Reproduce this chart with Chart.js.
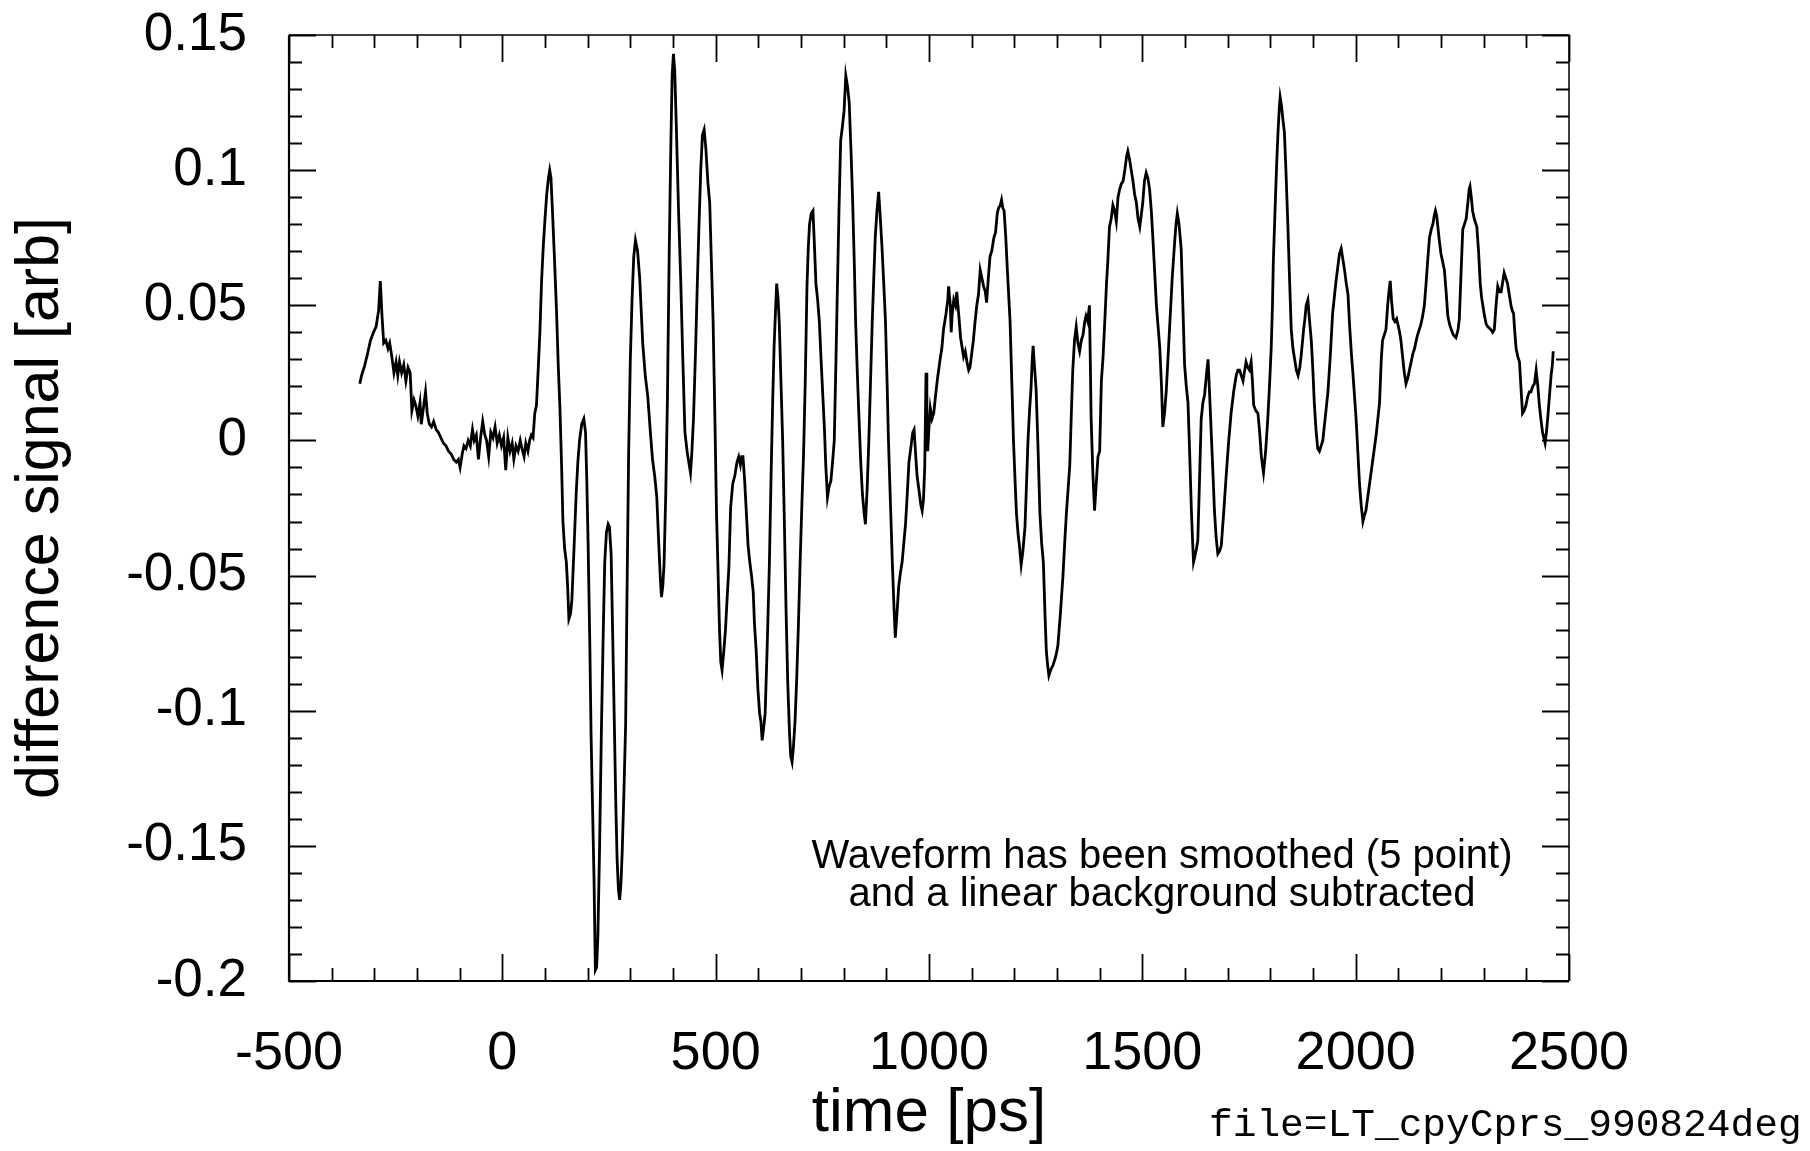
<!DOCTYPE html>
<html>
<head>
<meta charset="utf-8">
<script src="https://cdn.jsdelivr.net/npm/chart.js@4.4.1/dist/chart.umd.min.js"></script>
<style>
  html, body { margin: 0; padding: 0; background: #fff; }
  #wrap { position: relative; width: 1810px; height: 1151px; overflow: hidden; }
  #chart { position: absolute; left: 0; top: 0; }
  .note { position: absolute; font-family: 'Liberation Sans', Arial, sans-serif; color: #000; white-space: nowrap; }
  #smooth { left: 762px; top: 835px; width: 800px; text-align: center; font-size: 40px; line-height: 38px; }
  #file { left: 1209px; top: 1106px; font-family: 'Liberation Mono', 'Courier New', monospace; font-size: 39.5px; line-height: 40px; }
</style>
</head>
<body>
<div id="wrap">
  <canvas id="chart" width="1810" height="1151"></canvas>
  <div id="smooth" class="note">Waveform has been smoothed (5 point)<br>and a linear background subtracted</div>
  <div id="file" class="note">file=LT_cpyCprs_990824deg</div>
</div>
<script>
// time axis [ps]
const timePs = [
  -334, -330, -323, -316, -309, -302, -296, -290, -286, -282, -278, -273, -268, -264, -259, -254, -249, -245, -241, -236,
  -231, -226, -221, -216, -212, -207, -203, -198, -193, -190, -185, -180, -176, -171, -166, -161, -155, -150, -144, -138,
  -132, -126, -120, -114, -108, -103, -99, -94, -90, -85, -80, -75, -70, -66, -61, -56, -51, -46, -41, -37,
  -32, -27, -22, -17, -12, -7, -2, 3, 8, 13, 18, 23, 27, 32, 37, 42, 46, 51, 55, 60,
  64, 68, 72, 76, 80, 84, 88, 92, 96, 100, 104, 108, 111, 114, 118, 122, 127, 131, 135, 139,
  142, 146, 150, 153, 156, 160, 163, 168, 173, 177, 181, 186, 191, 195, 198, 201, 205, 208, 212, 215,
  218, 221, 224, 228, 232, 236, 240, 244, 248, 251, 255, 259, 263, 266, 269, 272, 275, 278, 281, 285,
  289, 292, 296, 300, 304, 308, 312, 317, 322, 329, 335, 341, 347, 352, 357, 362, 366, 370, 373, 376,
  379, 383, 387, 391, 395, 398, 401, 404, 408, 413, 418, 423, 428, 433, 438, 441, 444, 448, 453, 457,
  461, 465, 469, 473, 477, 482, 486, 490, 494, 498, 502, 505, 509, 512, 515, 519, 523, 527, 531, 535,
  540, 545, 550, 554, 558, 561, 564, 568, 572, 576, 580, 584, 588, 591, 595, 599, 603, 606, 609, 612,
  616, 621, 626, 630, 634, 637, 640, 643, 646, 649, 653, 657, 661, 665, 669, 673, 676, 679, 682, 686,
  690, 694, 698, 702, 706, 710, 714, 717, 720, 724, 728, 731, 735, 739, 743, 747, 751, 755, 758, 762,
  766, 770, 774, 778, 782, 785, 789, 793, 797, 801, 805, 809, 813, 817, 821, 825, 828, 832, 836, 840,
  844, 848, 851, 855, 859, 863, 867, 871, 874, 878, 882, 886, 890, 894, 898, 902, 905, 910, 914, 918,
  921, 925, 929, 933, 937, 941, 945, 949, 953, 958, 962, 965, 969, 972, 977, 981, 984, 987, 990, 993,
  995, 997, 1000, 1003, 1007, 1011, 1015, 1020, 1026, 1030, 1034, 1040, 1044, 1046, 1050, 1052, 1054, 1058, 1062, 1065,
  1070, 1074, 1077, 1081, 1085, 1089, 1093, 1096, 1100, 1104, 1108, 1112, 1116, 1120, 1124, 1128, 1132, 1135, 1139, 1143,
  1147, 1152, 1156, 1160, 1163, 1167, 1170, 1173, 1176, 1180, 1184, 1187, 1190, 1194, 1198, 1202, 1205, 1209, 1212, 1216,
  1220, 1225, 1229, 1232, 1236, 1239, 1242, 1244, 1247, 1251, 1255, 1260, 1264, 1268, 1272, 1275, 1278, 1281, 1285, 1291,
  1297, 1302, 1308, 1314, 1318, 1322, 1326, 1330, 1334, 1337, 1341, 1345, 1349, 1353, 1357, 1361, 1365, 1368, 1372, 1376,
  1378, 1380, 1384, 1388, 1392, 1396, 1400, 1404, 1408, 1412, 1416, 1419, 1423, 1427, 1431, 1435, 1439, 1443, 1447, 1451,
  1455, 1459, 1463, 1466, 1470, 1474, 1478, 1482, 1486, 1490, 1494, 1498, 1501, 1505, 1509, 1513, 1517, 1521, 1525, 1529,
  1533, 1537, 1541, 1545, 1548, 1552, 1556, 1560, 1564, 1570, 1576, 1579, 1582, 1586, 1591, 1595, 1599, 1603, 1607, 1611,
  1615, 1618, 1620, 1623, 1627, 1630, 1634, 1638, 1642, 1646, 1650, 1654, 1658, 1662, 1666, 1669, 1673, 1677, 1681, 1685,
  1691, 1697, 1702, 1708, 1714, 1720, 1724, 1728, 1732, 1736, 1740, 1743, 1747, 1751, 1755, 1758, 1761, 1766, 1771, 1775,
  1779, 1784, 1789, 1794, 1798, 1802, 1805, 1807, 1811, 1815, 1818, 1821, 1823, 1826, 1830, 1833, 1837, 1841, 1845, 1849,
  1853, 1857, 1861, 1865, 1869, 1872, 1875, 1878, 1881, 1884, 1888, 1892, 1896, 1900, 1903, 1907, 1911, 1915, 1919, 1923,
  1929, 1935, 1940, 1946, 1950, 1954, 1958, 1962, 1966, 1970, 1974, 1978, 1982, 1986, 1990, 1993, 1997, 2001, 2005, 2009,
  2013, 2017, 2020, 2024, 2030, 2036, 2042, 2048, 2052, 2056, 2060, 2063, 2067, 2071, 2075, 2078, 2081, 2084, 2088, 2092,
  2096, 2099, 2103, 2106, 2110, 2114, 2118, 2122, 2126, 2130, 2134, 2138, 2142, 2145, 2149, 2153, 2157, 2161, 2165, 2169,
  2173, 2177, 2181, 2184, 2187, 2190, 2192, 2196, 2200, 2204, 2208, 2212, 2216, 2220, 2224, 2229, 2235, 2240, 2243, 2247,
  2251, 2255, 2259, 2263, 2266, 2268, 2271, 2274, 2278, 2284, 2288, 2292, 2295, 2298, 2302, 2306, 2310, 2317, 2321, 2325,
  2329, 2333, 2337, 2341, 2345, 2348, 2352, 2356, 2360, 2364, 2367, 2370, 2373, 2376, 2380, 2384, 2388, 2391, 2395, 2399,
  2403, 2407, 2411, 2415, 2419, 2423, 2427, 2430, 2434, 2438, 2441, 2444, 2447, 2450, 2454, 2458, 2461, 2463
];

// difference signal [arb], same order as timePs
const signal = [
  0.021, 0.024, 0.0275, 0.032, 0.037, 0.040, 0.042, 0.048, 0.059, 0.046, 0.036, 0.037, 0.034, 0.036, 0.031, 0.025, 0.029, 0.024, 0.029, 0.025,
  0.028, 0.022, 0.027, 0.025, 0.011, 0.015, 0.013, 0.009, 0.014, 0.006, 0.012, 0.018, 0.010, 0.006, 0.005, 0.007, 0.004, 0.003, 0.001, -0.001,
  -0.002, -0.004, -0.005, -0.007, -0.008, -0.007, -0.010, -0.005, -0.002, -0.003, 0.000, -0.002, 0.004, 0.000, 0.002, -0.007, 0.001, 0.007, 0.002, 0.000,
  -0.006, 0.003, 0.001, 0.005, -0.001, 0.002, -0.002, 0.001, -0.011, 0.001, -0.004, -0.001, -0.007, -0.002, -0.004, 0.000, -0.003, -0.006, -0.001, -0.004,
  0.000, 0.002, 0.001, 0.010, 0.013, 0.026, 0.040, 0.059, 0.072, 0.082, 0.091, 0.097, 0.100, 0.097, 0.083, 0.068, 0.048, 0.028, 0.012, -0.010,
  -0.030, -0.040, -0.045, -0.054, -0.066, -0.064, -0.059, -0.040, -0.020, -0.008, 0.000, 0.006, 0.008, 0.003, -0.015, -0.038, -0.075, -0.109, -0.140, -0.163,
  -0.196, -0.195, -0.183, -0.150, -0.109, -0.075, -0.045, -0.034, -0.031, -0.032, -0.042, -0.075, -0.109, -0.135, -0.155, -0.166, -0.170, -0.164, -0.152, -0.130,
  -0.105, -0.060, -0.005, 0.030, 0.052, 0.068, 0.074, 0.070, 0.060, 0.036, 0.024, 0.016, 0.003, -0.007, -0.013, -0.021, -0.036, -0.050, -0.058, -0.054,
  -0.046, -0.020, 0.016, 0.068, 0.110, 0.135, 0.143, 0.137, 0.115, 0.085, 0.060, 0.030, 0.003, -0.004, -0.009, -0.012, -0.005, 0.008, 0.034, 0.058,
  0.080, 0.100, 0.113, 0.115, 0.108, 0.095, 0.088, 0.066, 0.044, 0.010, -0.027, -0.045, -0.070, -0.082, -0.085, -0.078, -0.070, -0.058, -0.047, -0.025,
  -0.016, -0.013, -0.008, -0.006, -0.009, -0.006, -0.006, -0.015, -0.027, -0.039, -0.045, -0.050, -0.056, -0.068, -0.078, -0.092, -0.101, -0.104, -0.111, -0.107,
  -0.101, -0.075, -0.045, -0.012, 0.017, 0.035, 0.047, 0.058, 0.053, 0.044, 0.022, 0.000, -0.030, -0.063, -0.090, -0.108, -0.117, -0.119, -0.114, -0.104,
  -0.088, -0.068, -0.045, -0.024, -0.005, 0.022, 0.057, 0.071, 0.080, 0.084, 0.085, 0.074, 0.058, 0.052, 0.044, 0.030, 0.017, 0.004, -0.009, -0.021,
  -0.017, -0.015, -0.008, 0.000, 0.030, 0.054, 0.085, 0.111, 0.116, 0.122, 0.135, 0.131, 0.125, 0.108, 0.089, 0.065, 0.044, 0.025, 0.008, -0.008,
  -0.020, -0.027, -0.031, -0.018, 0.000, 0.022, 0.044, 0.062, 0.075, 0.085, 0.092, 0.082, 0.071, 0.058, 0.044, 0.020, 0.000, -0.025, -0.045, -0.062,
  -0.073, -0.064, -0.054, -0.049, -0.045, -0.038, -0.031, -0.020, -0.008, -0.002, 0.003, 0.004, -0.006, -0.013, -0.019, -0.024, -0.026, -0.022, -0.010, 0.025,
  0.010, -0.004, 0.005, 0.012, 0.008, 0.010, 0.016, 0.023, 0.030, 0.034, 0.041, 0.047, 0.052, 0.057, 0.050, 0.040, 0.046, 0.052, 0.050, 0.055,
  0.046, 0.038, 0.035, 0.031, 0.033, 0.029, 0.026, 0.027, 0.032, 0.037, 0.044, 0.050, 0.054, 0.063, 0.060, 0.057, 0.055, 0.051, 0.060, 0.068,
  0.070, 0.075, 0.077, 0.084, 0.086, 0.087, 0.089, 0.086, 0.085, 0.075, 0.062, 0.053, 0.044, 0.022, 0.000, -0.016, -0.027, -0.035, -0.039, -0.046,
  -0.041, -0.032, -0.014, 0.000, 0.012, 0.019, 0.030, 0.035, 0.028, 0.019, 0.000, -0.027, -0.038, -0.045, -0.065, -0.078, -0.083, -0.087, -0.085, -0.083,
  -0.080, -0.076, -0.064, -0.050, -0.038, -0.027, -0.018, -0.009, 0.012, 0.026, 0.037, 0.042, 0.036, 0.033, 0.037, 0.039, 0.044, 0.046, 0.044, 0.050,
  0.030, 0.008, -0.012, -0.026, -0.016, -0.006, -0.004, 0.022, 0.031, 0.044, 0.058, 0.066, 0.079, 0.082, 0.087, 0.085, 0.081, 0.090, 0.093, 0.095,
  0.096, 0.100, 0.105, 0.107, 0.104, 0.100, 0.096, 0.091, 0.088, 0.082, 0.079, 0.084, 0.088, 0.096, 0.099, 0.097, 0.093, 0.085, 0.074, 0.062,
  0.050, 0.042, 0.034, 0.020, 0.005, 0.010, 0.018, 0.030, 0.042, 0.060, 0.074, 0.080, 0.084, 0.080, 0.071, 0.050, 0.028, 0.020, 0.014, -0.005,
  -0.026, -0.038, -0.045, -0.043, -0.040, -0.037, -0.015, 0.008, 0.014, 0.017, 0.024, 0.030, 0.016, 0.001, -0.014, -0.026, -0.036, -0.042, -0.041, -0.039,
  -0.026, -0.012, -0.001, 0.010, 0.018, 0.024, 0.026, 0.026, 0.024, 0.022, 0.026, 0.029, 0.027, 0.026, 0.029, 0.022, 0.013, 0.011, 0.010, 0.003,
  -0.006, -0.012, -0.004, 0.008, 0.020, 0.034, 0.050, 0.066, 0.085, 0.103, 0.114, 0.123, 0.127, 0.124, 0.118, 0.114, 0.098, 0.080, 0.060, 0.041,
  0.034, 0.030, 0.026, 0.024, 0.027, 0.031, 0.036, 0.041, 0.045, 0.050, 0.052, 0.044, 0.037, 0.025, 0.014, 0.004, -0.003, -0.004, -0.002, 0.000,
  0.009, 0.018, 0.030, 0.047, 0.053, 0.059, 0.064, 0.069, 0.071, 0.067, 0.063, 0.058, 0.054, 0.042, 0.032, 0.026, 0.017, 0.008, -0.004, -0.016,
  -0.024, -0.030, -0.028, -0.026, -0.019, -0.012, -0.005, 0.002, 0.008, 0.014, 0.030, 0.037, 0.039, 0.041, 0.050, 0.055, 0.059, 0.052, 0.045, 0.044,
  0.045, 0.043, 0.040, 0.037, 0.031, 0.025, 0.021, 0.023, 0.026, 0.029, 0.032, 0.034, 0.037, 0.039, 0.041, 0.043, 0.046, 0.050, 0.058, 0.067,
  0.075, 0.078, 0.080, 0.083, 0.085, 0.083, 0.080, 0.074, 0.069, 0.066, 0.063, 0.055, 0.046, 0.043, 0.041, 0.039, 0.038, 0.041, 0.045, 0.062,
  0.078, 0.080, 0.082, 0.088, 0.093, 0.094, 0.090, 0.085, 0.082, 0.079, 0.070, 0.058, 0.053, 0.050, 0.046, 0.043, 0.042, 0.041, 0.040, 0.041,
  0.050, 0.057, 0.055, 0.055, 0.059, 0.062, 0.060, 0.058, 0.054, 0.050, 0.048, 0.047, 0.040, 0.034, 0.031, 0.029, 0.018, 0.010, 0.011, 0.013,
  0.016, 0.018, 0.018, 0.020, 0.021, 0.026, 0.020, 0.014, 0.008, 0.003, 0.001, -0.001, 0.003, 0.008, 0.016, 0.024, 0.028, 0.033
];

// axis limits and labelled tick values
const xRange = [-500, 2500];
const yRange = [-0.2, 0.15];
const xMajorTicks = [-500, 0, 500, 1000, 1500, 2000, 2500];
const yMajorTicks = [-0.2, -0.15, -0.1, -0.05, 0, 0.05, 0.1, 0.15];

const isMajorX = v => xMajorTicks.some(m => Math.abs(m - v) < 1e-6);
const isMajorY = v => yMajorTicks.some(m => Math.abs(m - v) < 1e-6);
const fmtY = v => String(Math.round(v * 100) / 100);

Chart.defaults.font.family = "'Liberation Sans', Arial, sans-serif";
Chart.defaults.color = '#000';

// ticks drawn inward on all four sides, plus the frame
const innerTicks = {
  id: 'innerTicks',
  afterDatasetsDraw(chart) {
    const { ctx, chartArea: a, scales: { x, y } } = chart;
    ctx.save();
    ctx.strokeStyle = '#000';
    ctx.lineWidth = 1.8;
    ctx.beginPath();
    x.ticks.forEach(t => {
      const px = Math.round(x.getPixelForValue(t.value)) + 0.5;
      const len = isMajorX(t.value) ? 27 : 13;
      ctx.moveTo(px, a.bottom); ctx.lineTo(px, a.bottom - len);
      ctx.moveTo(px, a.top); ctx.lineTo(px, a.top + len);
    });
    y.ticks.forEach(t => {
      const py = Math.round(y.getPixelForValue(t.value)) + 0.5;
      const len = isMajorY(t.value) ? 27 : 13;
      ctx.moveTo(a.left, py); ctx.lineTo(a.left + len, py);
      ctx.moveTo(a.right, py); ctx.lineTo(a.right - len, py);
    });
    ctx.stroke();

    ctx.lineWidth = 2.2;
    ctx.beginPath();
    ctx.moveTo(a.left, a.top); ctx.lineTo(a.left, a.bottom); ctx.lineTo(a.right, a.bottom);
    ctx.stroke();
    ctx.lineWidth = 1.5;
    ctx.beginPath();
    ctx.moveTo(a.left, a.top); ctx.lineTo(a.right, a.top); ctx.lineTo(a.right, a.bottom);
    ctx.stroke();
    ctx.restore();
  }
};

new Chart(document.getElementById('chart'), {
  type: 'line',
  data: {
    datasets: [{
      label: 'difference signal',
      data: timePs.map((t, i) => ({ x: t, y: signal[i] })),
      borderColor: '#000',
      borderWidth: 2.8,
      pointRadius: 0,
      tension: 0,
      fill: false
    }]
  },
  options: {
    responsive: false,
    animation: false,
    devicePixelRatio: 1,
    layout: { padding: { left: 0, top: 35, right: 241, bottom: 0 } },
    plugins: {
      legend: { display: false },
      tooltip: { enabled: false }
    },
    scales: {
      x: {
        type: 'linear',
        min: xRange[0],
        max: xRange[1],
        grid: { display: false, drawTicks: false },
        border: { display: false },
        ticks: {
          stepSize: 100,
          autoSkip: false,
          maxRotation: 0,
          padding: 41,
          font: { size: 54 },
          callback: v => (isMajorX(v) ? String(v) : '')
        },
        title: {
          display: true,
          text: 'time [ps]',
          font: { size: 62 },
          padding: { top: 0, bottom: 0 }
        },
        afterFit: scale => {
          scale.height = 170;
          scale.paddingLeft = 0;
          scale.paddingRight = 0;
        }
      },
      y: {
        type: 'linear',
        min: yRange[0],
        max: yRange[1],
        grid: { display: false, drawTicks: false },
        border: { display: false },
        ticks: {
          stepSize: 0.01,
          autoSkip: false,
          padding: 42,
          font: { size: 53 },
          callback: v => (isMajorY(v) ? fmtY(v) : '')
        },
        title: {
          display: true,
          text: 'difference signal [arb]',
          font: { size: 61 },
          padding: { top: 5, bottom: 0 }
        },
        afterFit: scale => {
          scale.width = 289;
          scale.paddingTop = 0;
          scale.paddingBottom = 0;
        }
      }
    }
  },
  plugins: [innerTicks]
});
</script>
</body>
</html>
